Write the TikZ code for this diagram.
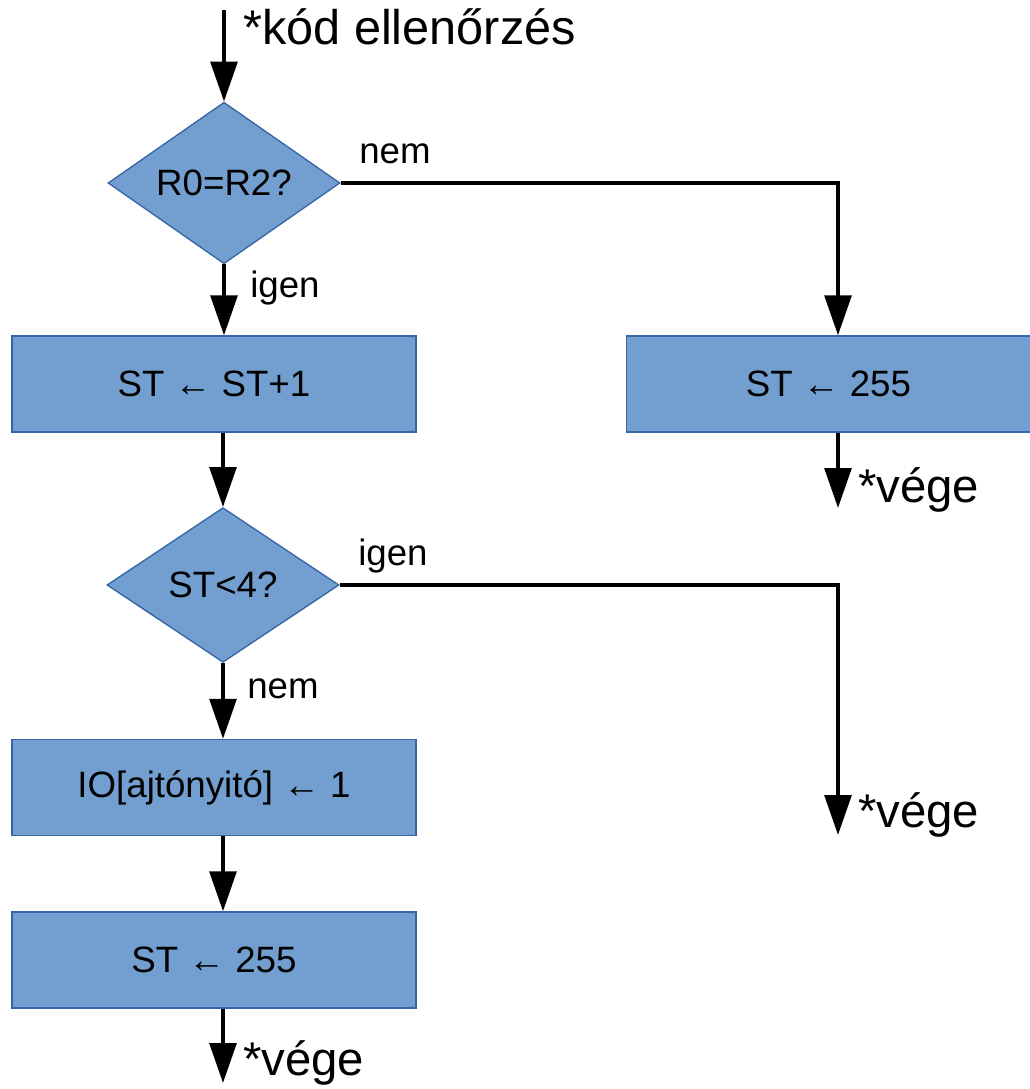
\documentclass[tikz,border=0pt]{standalone}
\usepackage{fontspec}
\setmainfont{Liberation Sans}
\usetikzlibrary{shapes.geometric,arrows.meta}
\definecolor{boxfill}{HTML}{729FCF}
\definecolor{boxline}{HTML}{3465A4}
\begin{document}
\begin{tikzpicture}[x=0.75pt,y=-0.75pt,
  proc/.style={draw=boxline,fill=boxfill,line width=1pt,
    minimum width=303pt,minimum height=72pt,inner sep=0pt,
    font=\fontsize{27.5}{33}\selectfont},
  decision/.style={diamond,draw=boxline,fill=boxfill,line width=1pt,
    minimum width=174pt,minimum height=116pt,inner sep=0pt,
    font=\fontsize{27.5}{33}\selectfont},
  small/.style={inner sep=0pt,anchor=base west,font=\fontsize{27.5}{33}\selectfont},
  big/.style={inner sep=0pt,anchor=base west,font=\fontsize{35.5}{42}\selectfont},
  flow/.style={line width=3pt,miter limit=10,-{Triangle[length=30pt,width=20pt]}}
]
\useasboundingbox (0,0) rectangle (1030,1089);

% blocks
\node[decision] (d1) at (224,183) {R0=R2?};
\node[proc] (b1) at (214,384) {ST ← ST+1};
\node[proc] (b2) at (828.5,384) {ST ← 255};
\node[decision] (d2) at (223,585) {ST<4?};
\node[proc] (b3) at (214,787.5) {IO[ajtónyitó] ← 1};
\node[proc] (b4) at (214,960) {ST ← 255};

% free ends and the right-hand column
\coordinate (start) at (224,10);
\coordinate (rc) at (838,0);
\coordinate (e1) at (838,508);
\coordinate (e2) at (838,835);
\coordinate (e3) at (223,1083);

% connectors
\draw[flow] (start) -- (d1.north);
\draw[flow] (d1.south) -- (d1.south |- b1.north);
\draw[flow] (d1.east) -| (rc |- b2.north);
\draw[flow] (rc |- b2.south) -- (e1);
\draw[flow] (d2 |- b1.south) -- (d2.north);
\draw[flow] (d2.east) -| (e2);
\draw[flow] (d2.south) -- (d2.south |- b3.north);
\draw[flow] (d2 |- b3.south) -- (d2 |- b4.north);
\draw[flow] (d2 |- b4.south) -- (e3);

% labels
\node[big,font=\fontsize{36.5}{43}\selectfont] (lstart) at (243,44) {*kód ellenőrzés};
\node[small] (ln1) at (359,163) {nem};
\node[small] (li1) at (250,297) {igen};
\node[small] (li2) at (358,565) {igen};
\node[small] (ln2) at (247,698) {nem};
\node[big] (lv1) at (858,502) {*vége};
\node[big] (lv2) at (858,827) {*vége};
\node[big] (lv3) at (243,1075) {*vége};
\end{tikzpicture}
\end{document}
